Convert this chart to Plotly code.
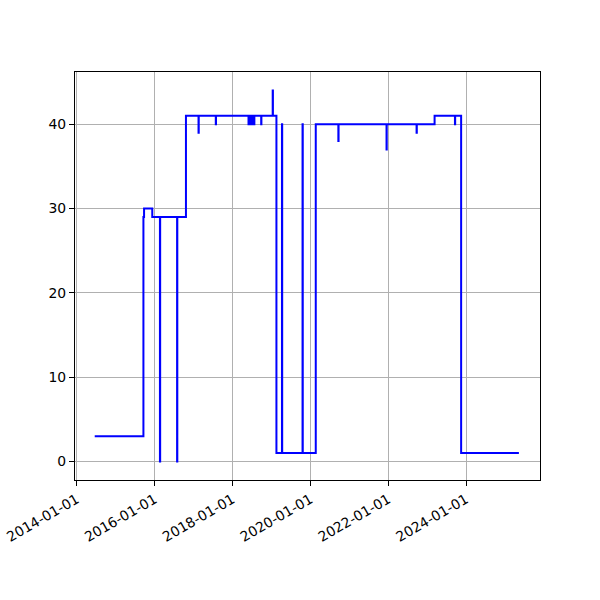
import plotly.graph_objects as go

# change points of the step series (value holds until next date)
dates = [
    "2014-06-18", "2015-09-18", "2015-09-24", "2015-12-10",
    "2016-02-20", "2016-02-22", "2016-07-30", "2016-08-01",
    "2016-10-21", "2017-02-16", "2017-02-18", "2017-07-28", "2017-07-30",
    "2018-05-31", "2018-06-03", "2018-06-08", "2018-06-11", "2018-06-16", "2018-06-19",
    "2018-06-24", "2018-06-27", "2018-07-02", "2018-07-05", "2018-07-10", "2018-07-13",
    "2018-07-18", "2018-07-21", "2018-07-23", "2018-07-25",
    "2018-09-27", "2018-09-29", "2019-01-13", "2019-01-15",
    "2019-02-17", "2019-04-10", "2019-04-12", "2019-10-20", "2019-10-22",
    "2020-02-21", "2020-09-20", "2020-09-22", "2021-12-16", "2021-12-18",
    "2022-09-24", "2022-09-26", "2023-03-12", "2023-09-19", "2023-09-21",
    "2023-11-16", "2025-05-11",
]
values = [
    3, 29, 30, 29,
    0, 29, 0, 29,
    41, 39, 41, 40, 41,
    40, 41, 40, 41, 40, 41,
    40, 41, 40, 41, 40, 41,
    40, 41, 40, 41,
    40, 41, 44, 41,
    1, 40, 1, 40, 1,
    40, 38, 40, 37, 40,
    39, 40, 41, 40, 41,
    1, 1,
]

tick_dates = ["2014-01-01", "2016-01-01", "2018-01-01", "2020-01-01", "2022-01-01", "2024-01-01"]
tick_labels = tick_dates
y_ticks = [0, 10, 20, 30, 40]

fig = go.Figure()
fig.add_trace(go.Scatter(
    x=dates, y=values, mode="lines", line_shape="hv",
    line=dict(color="#0000ff", width=2), showlegend=False,
))

font = dict(family="DejaVu Sans", size=13.9, color="black")
axis_common = dict(
    showline=True, linecolor="black", linewidth=1.1, mirror=True,
    ticks="outside", ticklen=5, tickwidth=1.1, tickcolor="black",
    showgrid=True, gridcolor="#b0b0b0", gridwidth=1.1,
    zeroline=False, tickfont=font,
)
fig.update_xaxes(
    type="date", range=["2013-12-15", "2025-11-25"],
    tickvals=tick_dates, ticktext=tick_labels, tickangle=-30,
    **axis_common,
)
fig.update_yaxes(
    range=[-2.2, 46.2], tickvals=y_ticks,
    ticktext=[str(v) for v in y_ticks], **axis_common,
)
fig.update_layout(
    width=600, height=600,
    margin=dict(l=75, r=60, t=72, b=120, autoexpand=False),
    paper_bgcolor="white", plot_bgcolor="white",
    font=font,
)
fig.write_html("out.html", config={"displayModeBar": False},
               post_script="document.body.style.margin='0';")
